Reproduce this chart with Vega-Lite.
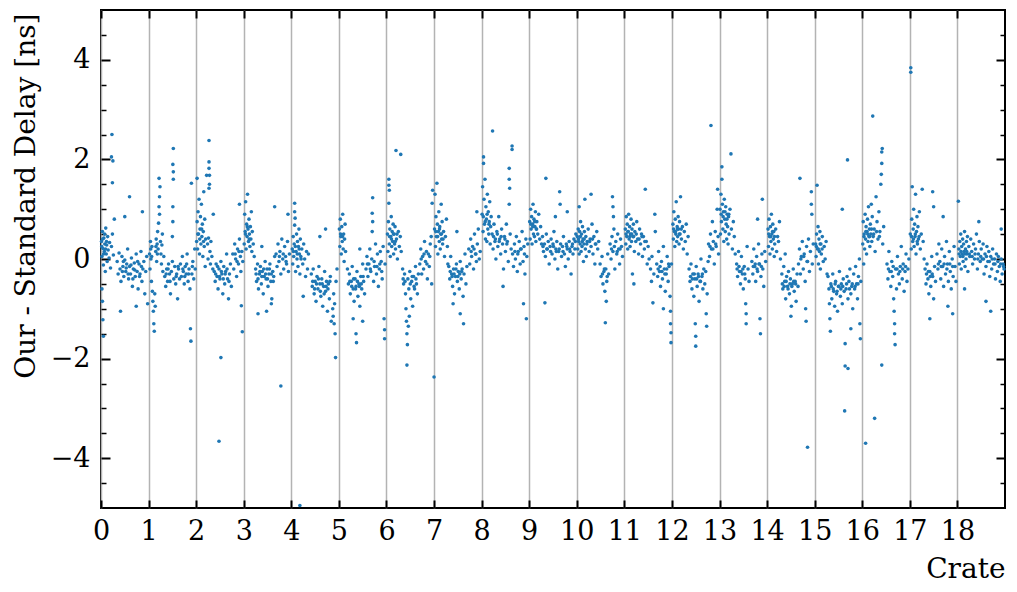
{
  "$schema": "https://vega.github.io/schema/vega-lite/v6.json",
  "width": 904,
  "height": 498,
  "autosize": "none",
  "padding": {"left": 101, "top": 10, "right": 12, "bottom": 84},
  "background": "white",
  "config": {
    "view": {"stroke": "black", "strokeWidth": 2},
    "axis": {"labelFont": "DejaVu Serif", "titleFont": "DejaVu Serif", "labelColor": "black", "titleColor": "black", "titleFontWeight": "normal", "tickColor": "black", "domain": false}
  },
  "resolve": {"axis": {"x": "independent", "y": "independent"}},
  "data": {"values": [
{"crate":0.01,"delay":0.35},{"crate":0.02,"delay":0.05},{"crate":0.03,"delay":0.55},{"crate":0.04,"delay":0.21},{"crate":0.05,"delay":-0.12},{"crate":0.06,"delay":0.42},{"crate":0.07,"delay":0.15},{"crate":0.08,"delay":0.3},{"crate":0.09,"delay":-0.25},{"crate":0.1,"delay":0.62},{"crate":0.11,"delay":0.1},{"crate":0.12,"delay":0.28},{"crate":0.13,"delay":-0.05},{"crate":0.14,"delay":0.45},{"crate":0.15,"delay":0.18},{"crate":0.17,"delay":0.02},{"crate":0.18,"delay":0.33},{"crate":0.2,"delay":-0.18},{"crate":0.22,"delay":0.25},{"crate":0.24,"delay":0.5},{"crate":0.26,"delay":0.08},{"crate":0.28,"delay":0.8},
{"crate":0.23,"delay":2.5},{"crate":0.22,"delay":2.05},{"crate":0.25,"delay":1.97},{"crate":0.24,"delay":1.53},{"crate":0.04,"delay":-1.22},{"crate":0.05,"delay":-1.55},{"crate":0.02,"delay":-0.6},{"crate":0.03,"delay":-0.85},
{"crate":0.34,"delay":-0.05},{"crate":0.36,"delay":-0.3},{"crate":0.38,"delay":0.12},{"crate":0.4,"delay":-0.2},{"crate":0.42,"delay":-0.45},{"crate":0.44,"delay":0.05},{"crate":0.46,"delay":-0.15},{"crate":0.48,"delay":-0.35},{"crate":0.5,"delay":-0.02},{"crate":0.52,"delay":-0.25},{"crate":0.54,"delay":-0.1},{"crate":0.56,"delay":0.2},{"crate":0.58,"delay":-0.4},{"crate":0.6,"delay":-0.15},{"crate":0.62,"delay":-0.3},{"crate":0.64,"delay":0.02},{"crate":0.66,"delay":-0.55},{"crate":0.68,"delay":-0.2},{"crate":0.7,"delay":-0.08},{"crate":0.72,"delay":-0.35},{"crate":0.74,"delay":0.1},{"crate":0.76,"delay":-0.25},{"crate":0.78,"delay":-0.6},{"crate":0.8,"delay":-0.1},{"crate":0.82,"delay":-0.3},{"crate":0.84,"delay":0.15},{"crate":0.86,"delay":-0.45},{"crate":0.88,"delay":-0.2},{"crate":0.9,"delay":-0.05},{"crate":0.92,"delay":-0.7},{"crate":0.94,"delay":-0.25},{"crate":0.96,"delay":0.05},
{"crate":0.41,"delay":-1.05},{"crate":0.6,"delay":1.25},{"crate":0.74,"delay":-0.95},{"crate":0.5,"delay":0.85},{"crate":0.87,"delay":0.95},{"crate":0.98,"delay":-0.9},
{"crate":0.015,"delay":0.25},{"crate":0.035,"delay":0.4},{"crate":0.055,"delay":0.1},{"crate":0.075,"delay":0.5},{"crate":0.095,"delay":0.2},{"crate":0.115,"delay":0.35},{"crate":0.45,"delay":-0.25},{"crate":0.47,"delay":-0.05},{"crate":0.53,"delay":-0.18},{"crate":0.57,"delay":-0.3},{"crate":0.63,"delay":-0.12},{"crate":0.67,"delay":-0.4},{"crate":0.71,"delay":-0.22},{"crate":0.77,"delay":-0.05},{"crate":0.81,"delay":-0.35},{"crate":0.85,"delay":-0.15},
{"crate":1.02,"delay":0.1},{"crate":1.03,"delay":-0.2},{"crate":1.04,"delay":0.35},{"crate":1.05,"delay":0.0},{"crate":1.06,"delay":-0.45},{"crate":1.07,"delay":0.25},{"crate":1.08,"delay":-0.65},{"crate":1.09,"delay":-0.85},{"crate":1.1,"delay":-1.05},{"crate":1.11,"delay":-1.3},{"crate":1.12,"delay":-1.45},{"crate":1.13,"delay":-0.7},{"crate":1.14,"delay":-0.95},{"crate":1.15,"delay":0.15},{"crate":1.16,"delay":0.4},{"crate":1.17,"delay":-0.05},{"crate":1.18,"delay":0.3},{"crate":1.19,"delay":0.55},{"crate":1.2,"delay":0.2},{"crate":1.21,"delay":0.72},{"crate":1.22,"delay":1.05},{"crate":1.23,"delay":1.25},{"crate":1.24,"delay":1.45},{"crate":1.22,"delay":1.62},{"crate":1.23,"delay":0.9},{"crate":1.25,"delay":0.35},{"crate":1.26,"delay":0.1},{"crate":1.27,"delay":-0.1},{"crate":1.28,"delay":0.28},{"crate":1.29,"delay":0.5},{"crate":1.3,"delay":-0.25},{"crate":1.32,"delay":0.05},
{"crate":1.34,"delay":-0.35},{"crate":1.36,"delay":-0.55},{"crate":1.38,"delay":-0.2},{"crate":1.4,"delay":-0.45},{"crate":1.42,"delay":-0.1},{"crate":1.44,"delay":-0.3},{"crate":1.46,"delay":-0.7},{"crate":1.48,"delay":-0.25},{"crate":1.5,"delay":-0.05},{"crate":1.5,"delay":0.45},{"crate":1.51,"delay":0.75},{"crate":1.51,"delay":1.05},{"crate":1.52,"delay":1.6},{"crate":1.52,"delay":1.75},{"crate":1.51,"delay":1.9},{"crate":1.52,"delay":2.22},{"crate":1.53,"delay":-0.4},{"crate":1.55,"delay":-0.15},{"crate":1.57,"delay":-0.5},{"crate":1.59,"delay":-0.3},{"crate":1.61,"delay":-0.8},{"crate":1.63,"delay":-0.2},{"crate":1.65,"delay":-0.4},
{"crate":1.67,"delay":-0.1},{"crate":1.69,"delay":-0.35},{"crate":1.71,"delay":0.05},{"crate":1.73,"delay":-0.25},{"crate":1.75,"delay":-0.5},{"crate":1.77,"delay":-0.15},{"crate":1.79,"delay":-0.3},{"crate":1.81,"delay":0.1},{"crate":1.83,"delay":-0.45},{"crate":1.85,"delay":-0.2},{"crate":1.87,"delay":-0.6},{"crate":1.88,"delay":-1.4},{"crate":1.89,"delay":-1.65},{"crate":1.9,"delay":1.52},{"crate":1.91,"delay":-0.3},{"crate":1.93,"delay":-0.05},{"crate":1.95,"delay":-0.4},{"crate":1.97,"delay":0.2},{"crate":1.98,"delay":-0.2},
{"crate":1.045,"delay":0.2},{"crate":1.065,"delay":0.05},{"crate":1.155,"delay":0.25},{"crate":1.185,"delay":0.1},{"crate":1.37,"delay":-0.3},{"crate":1.41,"delay":-0.2},{"crate":1.45,"delay":-0.45},{"crate":1.58,"delay":-0.35},{"crate":1.62,"delay":-0.15},{"crate":1.72,"delay":-0.2},{"crate":1.76,"delay":-0.35},{"crate":1.8,"delay":-0.1},{"crate":1.84,"delay":-0.3},{"crate":1.92,"delay":-0.15},
{"crate":2.01,"delay":0.35},{"crate":2.02,"delay":0.75},{"crate":2.03,"delay":0.2},{"crate":2.04,"delay":0.95},{"crate":2.05,"delay":0.5},{"crate":2.06,"delay":1.2},{"crate":2.07,"delay":0.1},{"crate":2.08,"delay":0.6},{"crate":2.09,"delay":0.85},{"crate":2.1,"delay":0.3},{"crate":2.11,"delay":1.1},{"crate":2.12,"delay":0.45},{"crate":2.13,"delay":0.7},{"crate":2.14,"delay":0.05},{"crate":2.15,"delay":0.55},{"crate":2.16,"delay":1.35},{"crate":2.17,"delay":0.25},{"crate":2.18,"delay":0.8},{"crate":2.19,"delay":-0.15},{"crate":2.2,"delay":0.4},{"crate":2.22,"delay":1.68},{"crate":2.02,"delay":1.62},
{"crate":2.24,"delay":0.3},{"crate":2.25,"delay":0.0},{"crate":2.26,"delay":0.42},{"crate":2.27,"delay":2.38},{"crate":2.27,"delay":1.95},{"crate":2.27,"delay":1.82},{"crate":2.28,"delay":1.68},{"crate":2.28,"delay":1.5},{"crate":2.27,"delay":1.42},{"crate":2.29,"delay":0.15},{"crate":2.3,"delay":-0.1},{"crate":2.31,"delay":0.35},{"crate":2.33,"delay":0.05},{"crate":2.35,"delay":-0.2},{"crate":2.36,"delay":0.9},
{"crate":2.38,"delay":-0.25},{"crate":2.4,"delay":-0.45},{"crate":2.42,"delay":-0.1},{"crate":2.44,"delay":-0.35},{"crate":2.46,"delay":-0.6},{"crate":2.48,"delay":-0.2},{"crate":2.5,"delay":-0.4},{"crate":2.52,"delay":-0.05},{"crate":2.54,"delay":-0.3},{"crate":2.56,"delay":-0.7},{"crate":2.58,"delay":-0.15},{"crate":2.6,"delay":-0.5},{"crate":2.62,"delay":-0.25},{"crate":2.64,"delay":0.1},{"crate":2.66,"delay":-0.4},{"crate":2.68,"delay":-0.8},{"crate":2.7,"delay":-0.3},{"crate":2.72,"delay":-0.1},{"crate":2.74,"delay":-0.55},
{"crate":2.77,"delay":0.1},{"crate":2.79,"delay":-0.2},{"crate":2.81,"delay":0.3},{"crate":2.83,"delay":0.0},{"crate":2.85,"delay":-0.35},{"crate":2.87,"delay":0.2},{"crate":2.89,"delay":-0.1},{"crate":2.91,"delay":0.4},{"crate":2.93,"delay":0.05},{"crate":2.94,"delay":-0.25},{"crate":2.96,"delay":0.15},{"crate":2.98,"delay":-0.05},
{"crate":2.48,"delay":-3.66},{"crate":2.52,"delay":-1.98},{"crate":2.95,"delay":-0.94},{"crate":2.97,"delay":-1.46},{"crate":2.91,"delay":1.1},
{"crate":2.035,"delay":0.5},{"crate":2.075,"delay":0.4},{"crate":2.115,"delay":0.6},{"crate":2.155,"delay":0.35},{"crate":2.41,"delay":-0.3},{"crate":2.45,"delay":-0.15},{"crate":2.49,"delay":-0.35},{"crate":2.53,"delay":-0.25},{"crate":2.57,"delay":-0.4},{"crate":2.61,"delay":-0.3},{"crate":2.65,"delay":-0.2},{"crate":2.69,"delay":-0.45},{"crate":2.82,"delay":0.1},{"crate":2.86,"delay":-0.05},{"crate":2.9,"delay":0.15},
{"crate":3.01,"delay":0.3},{"crate":3.02,"delay":0.9},{"crate":3.03,"delay":0.55},{"crate":3.04,"delay":1.15},{"crate":3.05,"delay":0.2},{"crate":3.06,"delay":0.7},{"crate":3.07,"delay":0.45},{"crate":3.08,"delay":1.3},{"crate":3.09,"delay":0.6},{"crate":3.1,"delay":0.35},{"crate":3.11,"delay":0.8},{"crate":3.12,"delay":0.5},{"crate":3.13,"delay":0.25},{"crate":3.14,"delay":0.65},{"crate":3.15,"delay":0.4},{"crate":3.16,"delay":0.95},{"crate":3.17,"delay":0.15},{"crate":3.18,"delay":0.55},{"crate":3.2,"delay":0.3},{"crate":3.22,"delay":0.05},
{"crate":3.25,"delay":-0.2},{"crate":3.27,"delay":-0.45},{"crate":3.29,"delay":-0.1},{"crate":3.31,"delay":-0.6},{"crate":3.33,"delay":-0.3},{"crate":3.35,"delay":-0.15},{"crate":3.37,"delay":-0.5},{"crate":3.39,"delay":-0.25},{"crate":3.41,"delay":-0.7},{"crate":3.43,"delay":-0.35},{"crate":3.45,"delay":-0.05},{"crate":3.47,"delay":-0.4},{"crate":3.49,"delay":-0.2},{"crate":3.51,"delay":-0.55},{"crate":3.53,"delay":-0.3},{"crate":3.55,"delay":-0.1},{"crate":3.57,"delay":-0.45},{"crate":3.59,"delay":-0.8},{"crate":3.61,"delay":-0.25},{"crate":3.63,"delay":-0.35},{"crate":3.65,"delay":0.05},{"crate":3.3,"delay":-1.1},{"crate":3.48,"delay":-1.05},{"crate":3.58,"delay":-0.9},{"crate":3.38,"delay":0.25},
{"crate":3.68,"delay":0.1},{"crate":3.7,"delay":-0.15},{"crate":3.72,"delay":0.3},{"crate":3.74,"delay":-0.05},{"crate":3.76,"delay":0.15},{"crate":3.78,"delay":-0.3},{"crate":3.8,"delay":0.4},{"crate":3.82,"delay":0.0},{"crate":3.84,"delay":-0.2},{"crate":3.86,"delay":0.25},{"crate":3.88,"delay":0.05},{"crate":3.9,"delay":-0.1},{"crate":3.92,"delay":0.35},{"crate":3.94,"delay":-0.25},{"crate":3.96,"delay":0.1},{"crate":3.93,"delay":0.9},{"crate":3.65,"delay":1.05},{"crate":3.78,"delay":-2.55},
{"crate":3.035,"delay":0.5},{"crate":3.075,"delay":0.65},{"crate":3.115,"delay":0.4},{"crate":3.26,"delay":-0.3},{"crate":3.3,"delay":-0.4},{"crate":3.34,"delay":-0.25},{"crate":3.38,"delay":-0.35},{"crate":3.42,"delay":-0.2},{"crate":3.46,"delay":-0.3},{"crate":3.5,"delay":-0.4},{"crate":3.54,"delay":-0.2},{"crate":3.58,"delay":-0.3},{"crate":3.62,"delay":-0.45},{"crate":3.75,"delay":0.05},{"crate":3.83,"delay":0.1},{"crate":3.89,"delay":-0.05},
{"crate":4.02,"delay":0.2},{"crate":4.03,"delay":-0.1},{"crate":4.04,"delay":0.45},{"crate":4.05,"delay":0.05},{"crate":4.06,"delay":0.3},{"crate":4.07,"delay":1.12},{"crate":4.07,"delay":0.95},{"crate":4.08,"delay":0.82},{"crate":4.07,"delay":0.68},{"crate":4.09,"delay":-0.25},{"crate":4.1,"delay":0.15},{"crate":4.11,"delay":0.5},{"crate":4.12,"delay":0.0},{"crate":4.13,"delay":0.35},{"crate":4.14,"delay":-0.15},{"crate":4.15,"delay":0.25},{"crate":4.16,"delay":0.6},{"crate":4.17,"delay":0.1},{"crate":4.18,"delay":-0.3},{"crate":4.19,"delay":0.4},{"crate":4.2,"delay":0.05},{"crate":4.22,"delay":0.2},{"crate":4.24,"delay":-0.1},{"crate":4.26,"delay":0.3},{"crate":4.28,"delay":0.0},{"crate":4.3,"delay":-0.35},{"crate":4.32,"delay":0.15},{"crate":4.34,"delay":-0.2},{"crate":4.36,"delay":0.1},{"crate":4.18,"delay":-4.95},{"crate":4.25,"delay":-0.75},
{"crate":4.42,"delay":-0.3},{"crate":4.44,"delay":-0.55},{"crate":4.46,"delay":-0.2},{"crate":4.48,"delay":-0.7},{"crate":4.5,"delay":-0.45},{"crate":4.52,"delay":-0.85},{"crate":4.54,"delay":-0.35},{"crate":4.56,"delay":-0.6},{"crate":4.58,"delay":-0.15},{"crate":4.6,"delay":-0.5},{"crate":4.62,"delay":-0.75},{"crate":4.64,"delay":-0.4},{"crate":4.66,"delay":-0.95},{"crate":4.68,"delay":-0.55},{"crate":4.7,"delay":-0.25},{"crate":4.72,"delay":-0.65},{"crate":4.74,"delay":-0.45},{"crate":4.76,"delay":-1.05},{"crate":4.78,"delay":-0.5},{"crate":4.8,"delay":-0.8},{"crate":4.82,"delay":-0.35},{"crate":4.84,"delay":-1.25},{"crate":4.6,"delay":0.45},{"crate":4.72,"delay":0.6},
{"crate":4.87,"delay":-1.0},{"crate":4.88,"delay":-1.15},{"crate":4.89,"delay":-0.7},{"crate":4.9,"delay":-1.3},{"crate":4.91,"delay":-0.9},{"crate":4.92,"delay":-1.5},{"crate":4.94,"delay":-0.45},{"crate":4.96,"delay":-0.2},{"crate":4.93,"delay":-1.98},
{"crate":4.045,"delay":0.15},{"crate":4.085,"delay":0.25},{"crate":4.125,"delay":0.1},{"crate":4.165,"delay":0.2},{"crate":4.205,"delay":0.0},{"crate":4.45,"delay":-0.45},{"crate":4.49,"delay":-0.6},{"crate":4.53,"delay":-0.5},{"crate":4.57,"delay":-0.4},{"crate":4.61,"delay":-0.65},{"crate":4.65,"delay":-0.5},{"crate":4.69,"delay":-0.7},{"crate":4.73,"delay":-0.55},{"crate":4.77,"delay":-0.6},{"crate":4.81,"delay":-0.45},
{"crate":5.01,"delay":0.6},{"crate":5.02,"delay":0.25},{"crate":5.03,"delay":0.8},{"crate":5.04,"delay":0.45},{"crate":5.05,"delay":0.1},{"crate":5.06,"delay":0.65},{"crate":5.07,"delay":0.35},{"crate":5.08,"delay":0.9},{"crate":5.09,"delay":0.2},{"crate":5.1,"delay":0.5},{"crate":5.11,"delay":-0.05},{"crate":5.12,"delay":0.4},{"crate":5.13,"delay":0.7},{"crate":5.14,"delay":0.15},
{"crate":5.18,"delay":-0.2},{"crate":5.2,"delay":-0.5},{"crate":5.22,"delay":-0.3},{"crate":5.24,"delay":-0.7},{"crate":5.26,"delay":-0.45},{"crate":5.28,"delay":-0.15},{"crate":5.3,"delay":-0.6},{"crate":5.32,"delay":-0.85},{"crate":5.34,"delay":-0.4},{"crate":5.36,"delay":-0.55},{"crate":5.38,"delay":-0.25},{"crate":5.4,"delay":-0.75},{"crate":5.42,"delay":-0.5},{"crate":5.44,"delay":-0.95},{"crate":5.46,"delay":-0.35},{"crate":5.48,"delay":-0.6},{"crate":5.5,"delay":-0.1},{"crate":5.52,"delay":-0.45},{"crate":5.54,"delay":-0.7},{"crate":5.3,"delay":-1.2},{"crate":5.36,"delay":-1.5},{"crate":5.37,"delay":-1.68},{"crate":5.5,"delay":-1.25},{"crate":5.44,"delay":0.2},
{"crate":5.57,"delay":-0.2},{"crate":5.59,"delay":0.05},{"crate":5.61,"delay":-0.35},{"crate":5.63,"delay":-0.1},{"crate":5.65,"delay":0.2},{"crate":5.67,"delay":-0.25},{"crate":5.69,"delay":0.0},{"crate":5.7,"delay":0.55},{"crate":5.71,"delay":0.75},{"crate":5.7,"delay":0.92},{"crate":5.71,"delay":1.23},{"crate":5.73,"delay":-0.45},{"crate":5.75,"delay":-0.15},{"crate":5.77,"delay":0.3},{"crate":5.79,"delay":-0.3},{"crate":5.81,"delay":0.1},{"crate":5.83,"delay":-0.55},{"crate":5.85,"delay":-0.2},{"crate":5.87,"delay":0.15},{"crate":5.89,"delay":-0.05},{"crate":5.91,"delay":-0.4},{"crate":5.93,"delay":0.25},{"crate":5.95,"delay":-1.2},{"crate":5.96,"delay":-1.42},{"crate":5.96,"delay":-1.6},{"crate":5.97,"delay":-0.1},
{"crate":5.035,"delay":0.5},{"crate":5.075,"delay":0.45},{"crate":5.23,"delay":-0.45},{"crate":5.27,"delay":-0.55},{"crate":5.31,"delay":-0.4},{"crate":5.35,"delay":-0.6},{"crate":5.39,"delay":-0.45},{"crate":5.43,"delay":-0.55},{"crate":5.47,"delay":-0.5},{"crate":5.51,"delay":-0.35},{"crate":5.6,"delay":-0.1},{"crate":5.66,"delay":-0.2},{"crate":5.74,"delay":-0.05},{"crate":5.8,"delay":-0.15},{"crate":5.86,"delay":-0.1},{"crate":5.9,"delay":-0.25},
{"crate":6.02,"delay":0.5},{"crate":6.03,"delay":0.15},{"crate":6.04,"delay":0.75},{"crate":6.05,"delay":1.6},{"crate":6.05,"delay":1.48},{"crate":6.06,"delay":1.38},{"crate":6.05,"delay":1.12},{"crate":6.06,"delay":0.3},{"crate":6.07,"delay":0.6},{"crate":6.08,"delay":0.05},{"crate":6.09,"delay":0.45},{"crate":6.1,"delay":0.85},{"crate":6.11,"delay":0.25},{"crate":6.12,"delay":0.55},{"crate":6.13,"delay":0.35},{"crate":6.14,"delay":0.7},{"crate":6.15,"delay":0.1},{"crate":6.16,"delay":0.5},{"crate":6.17,"delay":0.3},{"crate":6.18,"delay":0.65},{"crate":6.19,"delay":0.2},{"crate":6.2,"delay":2.18},{"crate":6.21,"delay":0.4},{"crate":6.23,"delay":0.0},{"crate":6.25,"delay":0.55},{"crate":6.27,"delay":0.25},{"crate":6.29,"delay":0.45},{"crate":6.3,"delay":2.1},{"crate":6.31,"delay":0.15},
{"crate":6.34,"delay":-0.2},{"crate":6.36,"delay":-0.5},{"crate":6.38,"delay":-0.3},{"crate":6.4,"delay":-0.7},{"crate":6.41,"delay":-1.0},{"crate":6.42,"delay":-1.25},{"crate":6.43,"delay":-1.5},{"crate":6.44,"delay":-1.72},{"crate":6.43,"delay":-2.13},{"crate":6.45,"delay":-0.4},{"crate":6.46,"delay":-1.35},{"crate":6.47,"delay":-0.6},{"crate":6.48,"delay":-1.15},{"crate":6.49,"delay":-0.25},{"crate":6.51,"delay":-0.8},{"crate":6.53,"delay":-0.45},{"crate":6.55,"delay":-0.95},{"crate":6.57,"delay":-0.35},{"crate":6.59,"delay":-0.6},{"crate":6.61,"delay":-0.15},{"crate":6.63,"delay":-0.5},{"crate":6.65,"delay":-0.7},{"crate":6.67,"delay":-0.3},
{"crate":6.7,"delay":-0.1},{"crate":6.72,"delay":0.2},{"crate":6.74,"delay":-0.3},{"crate":6.76,"delay":0.05},{"crate":6.78,"delay":-0.2},{"crate":6.8,"delay":0.35},{"crate":6.82,"delay":-0.05},{"crate":6.84,"delay":0.15},{"crate":6.86,"delay":-0.4},{"crate":6.88,"delay":0.1},{"crate":6.9,"delay":-0.15},{"crate":6.92,"delay":0.3},{"crate":6.94,"delay":0.45},{"crate":6.96,"delay":1.12},{"crate":6.97,"delay":1.38},{"crate":6.95,"delay":-0.5},
{"crate":6.065,"delay":0.45},{"crate":6.105,"delay":0.4},{"crate":6.145,"delay":0.5},{"crate":6.185,"delay":0.35},{"crate":6.22,"delay":0.5},{"crate":6.35,"delay":-0.4},{"crate":6.39,"delay":-0.45},{"crate":6.5,"delay":-0.5},{"crate":6.54,"delay":-0.35},{"crate":6.58,"delay":-0.55},{"crate":6.62,"delay":-0.4},{"crate":6.73,"delay":0.0},{"crate":6.79,"delay":0.1},{"crate":6.85,"delay":-0.1},{"crate":6.91,"delay":0.05},
{"crate":7.01,"delay":0.6},{"crate":7.02,"delay":1.3},{"crate":7.03,"delay":0.25},{"crate":7.04,"delay":0.85},{"crate":7.05,"delay":0.45},{"crate":7.06,"delay":1.52},{"crate":7.07,"delay":0.7},{"crate":7.08,"delay":0.1},{"crate":7.09,"delay":0.55},{"crate":7.1,"delay":0.95},{"crate":7.11,"delay":0.35},{"crate":7.12,"delay":0.65},{"crate":7.13,"delay":0.2},{"crate":7.14,"delay":0.5},{"crate":7.15,"delay":1.1},{"crate":7.16,"delay":0.4},{"crate":7.17,"delay":0.75},{"crate":7.18,"delay":0.3},{"crate":7.2,"delay":0.55},{"crate":7.22,"delay":0.05},{"crate":7.24,"delay":0.45},{"crate":7.26,"delay":0.8},{"crate":7.28,"delay":0.25},{"crate":7.29,"delay":-0.1},{"crate":7.0,"delay":-2.37},
{"crate":7.31,"delay":-0.15},{"crate":7.33,"delay":-0.4},{"crate":7.35,"delay":0.05},{"crate":7.37,"delay":-0.3},{"crate":7.39,"delay":-0.55},{"crate":7.41,"delay":-0.2},{"crate":7.43,"delay":-0.7},{"crate":7.45,"delay":-0.35},{"crate":7.47,"delay":-0.1},{"crate":7.49,"delay":-0.45},{"crate":7.51,"delay":-0.25},{"crate":7.53,"delay":-0.6},{"crate":7.55,"delay":-0.05},{"crate":7.57,"delay":-0.4},{"crate":7.59,"delay":-0.2},{"crate":7.61,"delay":-0.75},{"crate":7.63,"delay":-0.3},{"crate":7.65,"delay":0.1},{"crate":7.67,"delay":-0.5},{"crate":7.69,"delay":-0.15},{"crate":7.4,"delay":-0.9},{"crate":7.55,"delay":-1.1},{"crate":7.62,"delay":-1.3},{"crate":7.48,"delay":0.55},
{"crate":7.73,"delay":0.2},{"crate":7.75,"delay":-0.1},{"crate":7.77,"delay":0.4},{"crate":7.79,"delay":0.05},{"crate":7.81,"delay":0.25},{"crate":7.83,"delay":-0.2},{"crate":7.85,"delay":0.5},{"crate":7.87,"delay":0.1},{"crate":7.89,"delay":-0.05},{"crate":7.91,"delay":0.3},{"crate":7.93,"delay":0.6},{"crate":7.95,"delay":0.0},{"crate":7.97,"delay":0.15},{"crate":7.9,"delay":0.95},
{"crate":7.035,"delay":0.55},{"crate":7.075,"delay":0.45},{"crate":7.115,"delay":0.6},{"crate":7.155,"delay":0.5},{"crate":7.19,"delay":0.4},{"crate":7.34,"delay":-0.25},{"crate":7.38,"delay":-0.35},{"crate":7.42,"delay":-0.3},{"crate":7.46,"delay":-0.2},{"crate":7.5,"delay":-0.35},{"crate":7.54,"delay":-0.3},{"crate":7.58,"delay":-0.25},{"crate":7.78,"delay":0.15},{"crate":7.84,"delay":0.2},{"crate":7.88,"delay":0.1},
{"crate":8.01,"delay":0.9},{"crate":8.02,"delay":1.45},{"crate":8.03,"delay":0.55},{"crate":8.04,"delay":2.05},{"crate":8.04,"delay":1.92},{"crate":8.05,"delay":1.2},{"crate":8.06,"delay":0.7},{"crate":8.07,"delay":1.6},{"crate":8.08,"delay":0.4},{"crate":8.09,"delay":1.05},{"crate":8.1,"delay":0.8},{"crate":8.11,"delay":0.35},{"crate":8.12,"delay":1.3},{"crate":8.13,"delay":0.6},{"crate":8.14,"delay":0.95},{"crate":8.15,"delay":0.5},{"crate":8.16,"delay":0.75},{"crate":8.17,"delay":1.15},{"crate":8.18,"delay":0.3},{"crate":8.19,"delay":0.65},{"crate":8.2,"delay":0.85},{"crate":8.23,"delay":2.57},
{"crate":8.22,"delay":0.5},{"crate":8.24,"delay":0.2},{"crate":8.26,"delay":0.7},{"crate":8.28,"delay":0.35},{"crate":8.3,"delay":0.0},{"crate":8.32,"delay":0.55},{"crate":8.34,"delay":0.25},{"crate":8.36,"delay":0.85},{"crate":8.38,"delay":0.4},{"crate":8.4,"delay":0.1},{"crate":8.42,"delay":0.6},{"crate":8.44,"delay":0.3},{"crate":8.46,"delay":-0.2},{"crate":8.48,"delay":0.45},{"crate":8.5,"delay":0.15},{"crate":8.52,"delay":0.7},{"crate":8.54,"delay":0.35},{"crate":8.56,"delay":-0.05},{"crate":8.58,"delay":1.82},{"crate":8.58,"delay":1.6},{"crate":8.59,"delay":1.42},{"crate":8.58,"delay":1.1},{"crate":8.6,"delay":0.5},{"crate":8.62,"delay":0.2},{"crate":8.64,"delay":2.27},{"crate":8.64,"delay":2.2},{"crate":8.45,"delay":-0.55},
{"crate":8.65,"delay":0.1},{"crate":8.67,"delay":-0.15},{"crate":8.69,"delay":0.3},{"crate":8.71,"delay":0.0},{"crate":8.73,"delay":0.45},{"crate":8.75,"delay":-0.25},{"crate":8.77,"delay":0.15},{"crate":8.79,"delay":0.35},{"crate":8.81,"delay":-0.1},{"crate":8.83,"delay":0.2},{"crate":8.85,"delay":0.55},{"crate":8.87,"delay":-0.05},{"crate":8.89,"delay":0.25},{"crate":8.91,"delay":-0.3},{"crate":8.93,"delay":0.4},{"crate":8.95,"delay":0.05},{"crate":8.97,"delay":0.3},{"crate":8.88,"delay":-0.9},{"crate":8.94,"delay":-1.2},
{"crate":8.035,"delay":0.85},{"crate":8.075,"delay":0.75},{"crate":8.115,"delay":0.9},{"crate":8.155,"delay":0.7},{"crate":8.25,"delay":0.45},{"crate":8.29,"delay":0.4},{"crate":8.33,"delay":0.5},{"crate":8.37,"delay":0.35},{"crate":8.41,"delay":0.45},{"crate":8.49,"delay":0.4},{"crate":8.53,"delay":0.3},{"crate":8.7,"delay":0.15},{"crate":8.76,"delay":0.1},{"crate":8.82,"delay":0.2},{"crate":8.9,"delay":0.1},
{"crate":9.01,"delay":0.75},{"crate":9.02,"delay":0.4},{"crate":9.03,"delay":1.0},{"crate":9.04,"delay":0.6},{"crate":9.05,"delay":0.85},{"crate":9.06,"delay":0.3},{"crate":9.07,"delay":0.7},{"crate":9.08,"delay":1.1},{"crate":9.09,"delay":0.5},{"crate":9.1,"delay":0.8},{"crate":9.11,"delay":0.45},{"crate":9.12,"delay":0.65},{"crate":9.13,"delay":0.95},{"crate":9.14,"delay":0.35},{"crate":9.15,"delay":0.6},{"crate":9.16,"delay":0.75},{"crate":9.18,"delay":0.5},{"crate":9.2,"delay":0.9},{"crate":9.22,"delay":0.4},{"crate":9.24,"delay":0.65},{"crate":9.26,"delay":0.3},
{"crate":9.28,"delay":0.45},{"crate":9.3,"delay":0.15},{"crate":9.32,"delay":0.3},{"crate":9.33,"delay":-0.88},{"crate":9.34,"delay":0.05},{"crate":9.35,"delay":1.62},{"crate":9.36,"delay":0.5},{"crate":9.38,"delay":0.2},{"crate":9.4,"delay":0.35},{"crate":9.42,"delay":-0.1},{"crate":9.44,"delay":0.25},{"crate":9.46,"delay":0.4},{"crate":9.48,"delay":0.1},{"crate":9.5,"delay":0.3},{"crate":9.52,"delay":0.55},{"crate":9.54,"delay":0.0},{"crate":9.56,"delay":0.2},{"crate":9.58,"delay":0.35},{"crate":9.6,"delay":-0.2},{"crate":9.62,"delay":0.15},{"crate":9.64,"delay":1.35},{"crate":9.65,"delay":1.1},{"crate":9.66,"delay":0.3},{"crate":9.68,"delay":0.05},{"crate":9.7,"delay":0.25},{"crate":9.72,"delay":0.45},{"crate":9.74,"delay":0.1},{"crate":9.76,"delay":-0.15},{"crate":9.78,"delay":0.3},{"crate":9.8,"delay":0.2},{"crate":9.82,"delay":0.0},{"crate":9.84,"delay":0.35},{"crate":9.86,"delay":0.15},{"crate":9.88,"delay":-0.3},{"crate":9.9,"delay":0.25},{"crate":9.92,"delay":0.1},{"crate":9.94,"delay":0.4},{"crate":9.96,"delay":0.2},{"crate":9.98,"delay":0.5},{"crate":9.8,"delay":0.95},{"crate":9.55,"delay":0.85},
{"crate":9.035,"delay":0.7},{"crate":9.075,"delay":0.65},{"crate":9.115,"delay":0.75},{"crate":9.155,"delay":0.6},{"crate":9.29,"delay":0.25},{"crate":9.37,"delay":0.2},{"crate":9.45,"delay":0.15},{"crate":9.51,"delay":0.25},{"crate":9.57,"delay":0.15},{"crate":9.63,"delay":0.2},{"crate":9.71,"delay":0.15},{"crate":9.79,"delay":0.25},{"crate":9.85,"delay":0.2},{"crate":9.91,"delay":0.3},{"crate":9.97,"delay":0.35},
{"crate":10.01,"delay":0.45},{"crate":10.02,"delay":0.2},{"crate":10.03,"delay":0.6},{"crate":10.04,"delay":0.35},{"crate":10.05,"delay":0.1},{"crate":10.06,"delay":0.55},{"crate":10.07,"delay":0.3},{"crate":10.08,"delay":0.75},{"crate":10.09,"delay":0.15},{"crate":10.1,"delay":0.5},{"crate":10.11,"delay":0.25},{"crate":10.12,"delay":0.65},{"crate":10.13,"delay":0.4},{"crate":10.14,"delay":-0.05},{"crate":10.15,"delay":0.3},{"crate":10.16,"delay":0.55},{"crate":10.17,"delay":1.2},{"crate":10.18,"delay":0.2},{"crate":10.19,"delay":0.45},{"crate":10.2,"delay":0.05},{"crate":10.22,"delay":0.35},{"crate":10.24,"delay":0.6},{"crate":10.26,"delay":0.15},{"crate":10.28,"delay":0.4},{"crate":10.3,"delay":0.25},{"crate":10.32,"delay":0.7},{"crate":10.34,"delay":0.1},{"crate":10.36,"delay":0.45},{"crate":10.38,"delay":-0.1},{"crate":10.4,"delay":0.3},{"crate":10.42,"delay":0.55},{"crate":10.44,"delay":0.2},{"crate":10.46,"delay":0.35},{"crate":10.05,"delay":1.05},{"crate":10.3,"delay":1.3},
{"crate":10.49,"delay":-0.1},{"crate":10.51,"delay":-0.35},{"crate":10.53,"delay":0.05},{"crate":10.55,"delay":-0.5},{"crate":10.57,"delay":-0.25},{"crate":10.59,"delay":-0.65},{"crate":10.61,"delay":-0.2},{"crate":10.63,"delay":-0.45},{"crate":10.65,"delay":0.1},{"crate":10.67,"delay":-0.3},{"crate":10.6,"delay":-1.28},{"crate":10.62,"delay":-0.85},
{"crate":10.7,"delay":0.3},{"crate":10.72,"delay":0.0},{"crate":10.74,"delay":0.45},{"crate":10.76,"delay":0.15},{"crate":10.78,"delay":0.6},{"crate":10.8,"delay":-0.2},{"crate":10.82,"delay":0.35},{"crate":10.84,"delay":0.1},{"crate":10.86,"delay":0.5},{"crate":10.88,"delay":0.2},{"crate":10.9,"delay":-0.1},{"crate":10.92,"delay":0.4},{"crate":10.94,"delay":0.25},{"crate":10.96,"delay":0.05},{"crate":10.75,"delay":1.25},{"crate":10.76,"delay":1.05},{"crate":10.77,"delay":0.85},
{"crate":10.035,"delay":0.4},{"crate":10.075,"delay":0.45},{"crate":10.115,"delay":0.35},{"crate":10.155,"delay":0.4},{"crate":10.21,"delay":0.3},{"crate":10.27,"delay":0.35},{"crate":10.33,"delay":0.4},{"crate":10.39,"delay":0.3},{"crate":10.54,"delay":-0.3},{"crate":10.58,"delay":-0.2},{"crate":10.64,"delay":-0.35},{"crate":10.73,"delay":0.2},{"crate":10.79,"delay":0.25},{"crate":10.85,"delay":0.15},{"crate":10.91,"delay":0.2},
{"crate":11.02,"delay":0.6},{"crate":11.03,"delay":0.3},{"crate":11.04,"delay":0.85},{"crate":11.05,"delay":0.45},{"crate":11.06,"delay":0.7},{"crate":11.07,"delay":0.2},{"crate":11.08,"delay":0.55},{"crate":11.09,"delay":0.9},{"crate":11.1,"delay":0.4},{"crate":11.11,"delay":0.65},{"crate":11.12,"delay":0.25},{"crate":11.13,"delay":0.5},{"crate":11.14,"delay":0.8},{"crate":11.15,"delay":0.35},{"crate":11.16,"delay":0.6},{"crate":11.17,"delay":-0.3},{"crate":11.18,"delay":0.45},{"crate":11.19,"delay":0.7},{"crate":11.2,"delay":-0.5},{"crate":11.21,"delay":0.15},{"crate":11.22,"delay":0.55},{"crate":11.24,"delay":0.35},{"crate":11.26,"delay":0.75},{"crate":11.28,"delay":0.4},{"crate":11.3,"delay":0.1},{"crate":11.32,"delay":0.6},{"crate":11.34,"delay":0.3},{"crate":11.36,"delay":0.5},{"crate":11.38,"delay":0.05},{"crate":11.4,"delay":0.45},{"crate":11.42,"delay":0.2},{"crate":11.44,"delay":1.4},{"crate":11.46,"delay":0.35},{"crate":11.48,"delay":-0.1},{"crate":11.5,"delay":0.25},{"crate":11.52,"delay":0.0},
{"crate":11.55,"delay":-0.2},{"crate":11.57,"delay":-0.45},{"crate":11.58,"delay":0.05},{"crate":11.6,"delay":-0.88},{"crate":11.62,"delay":-0.3},{"crate":11.64,"delay":0.9},{"crate":11.65,"delay":0.55},
{"crate":11.68,"delay":-0.1},{"crate":11.7,"delay":-0.35},{"crate":11.72,"delay":0.15},{"crate":11.74,"delay":-0.25},{"crate":11.76,"delay":-0.55},{"crate":11.78,"delay":-0.05},{"crate":11.8,"delay":-0.4},{"crate":11.82,"delay":0.25},{"crate":11.84,"delay":-0.2},{"crate":11.86,"delay":-0.65},{"crate":11.88,"delay":-0.3},{"crate":11.9,"delay":0.05},{"crate":11.92,"delay":-0.45},{"crate":11.94,"delay":-0.15},{"crate":11.96,"delay":-0.75},{"crate":11.97,"delay":-1.05},{"crate":11.97,"delay":-1.3},{"crate":11.98,"delay":-1.48},{"crate":11.98,"delay":-1.68},{"crate":11.99,"delay":-0.1},{"crate":11.82,"delay":-1.0},
{"crate":11.035,"delay":0.5},{"crate":11.075,"delay":0.55},{"crate":11.115,"delay":0.45},{"crate":11.155,"delay":0.5},{"crate":11.195,"delay":0.45},{"crate":11.25,"delay":0.5},{"crate":11.31,"delay":0.4},{"crate":11.37,"delay":0.45},{"crate":11.43,"delay":0.35},{"crate":11.71,"delay":-0.2},{"crate":11.75,"delay":-0.15},{"crate":11.79,"delay":-0.25},{"crate":11.85,"delay":-0.3},{"crate":11.89,"delay":-0.2},{"crate":11.93,"delay":-0.1},
{"crate":12.02,"delay":0.7},{"crate":12.03,"delay":0.4},{"crate":12.04,"delay":0.95},{"crate":12.05,"delay":0.55},{"crate":12.06,"delay":0.25},{"crate":12.07,"delay":0.8},{"crate":12.08,"delay":0.5},{"crate":12.09,"delay":1.15},{"crate":12.1,"delay":0.35},{"crate":12.11,"delay":0.65},{"crate":12.12,"delay":0.45},{"crate":12.13,"delay":0.85},{"crate":12.14,"delay":0.6},{"crate":12.15,"delay":0.3},{"crate":12.16,"delay":0.75},{"crate":12.17,"delay":0.5},{"crate":12.18,"delay":1.25},{"crate":12.2,"delay":0.4},{"crate":12.22,"delay":0.65},{"crate":12.24,"delay":0.2},{"crate":12.26,"delay":0.55},{"crate":12.28,"delay":0.35},{"crate":12.3,"delay":0.7},{"crate":12.32,"delay":0.1},{"crate":12.34,"delay":0.45},
{"crate":12.36,"delay":-0.2},{"crate":12.38,"delay":-0.45},{"crate":12.4,"delay":-0.1},{"crate":12.42,"delay":-0.6},{"crate":12.44,"delay":-0.3},{"crate":12.46,"delay":-0.75},{"crate":12.48,"delay":-0.4},{"crate":12.49,"delay":-1.3},{"crate":12.5,"delay":-1.55},{"crate":12.5,"delay":-1.75},{"crate":12.51,"delay":-0.15},{"crate":12.53,"delay":-0.55},{"crate":12.55,"delay":-0.3},{"crate":12.57,"delay":-0.85},{"crate":12.59,"delay":-0.45},{"crate":12.61,"delay":0.0},{"crate":12.63,"delay":-0.35},{"crate":12.65,"delay":-0.6},{"crate":12.67,"delay":-0.2},{"crate":12.69,"delay":-0.5},{"crate":12.71,"delay":-0.25},{"crate":12.72,"delay":-1.1},{"crate":12.73,"delay":-1.35},{"crate":12.74,"delay":-0.7},{"crate":12.76,"delay":-0.05},
{"crate":12.77,"delay":0.3},{"crate":12.79,"delay":0.05},{"crate":12.81,"delay":0.5},{"crate":12.82,"delay":2.68},{"crate":12.83,"delay":0.2},{"crate":12.85,"delay":0.75},{"crate":12.87,"delay":0.35},{"crate":12.89,"delay":-0.1},{"crate":12.91,"delay":0.55},{"crate":12.93,"delay":0.25},{"crate":12.95,"delay":1.0},{"crate":12.96,"delay":1.4},{"crate":12.97,"delay":0.45},{"crate":12.98,"delay":0.1},
{"crate":12.035,"delay":0.6},{"crate":12.075,"delay":0.55},{"crate":12.115,"delay":0.6},{"crate":12.155,"delay":0.5},{"crate":12.195,"delay":0.6},{"crate":12.39,"delay":-0.35},{"crate":12.43,"delay":-0.4},{"crate":12.47,"delay":-0.3},{"crate":12.52,"delay":-0.4},{"crate":12.56,"delay":-0.35},{"crate":12.6,"delay":-0.45},{"crate":12.64,"delay":-0.3},{"crate":12.8,"delay":0.25},{"crate":12.86,"delay":0.2},{"crate":12.92,"delay":0.3},
{"crate":13.01,"delay":1.0},{"crate":13.02,"delay":0.5},{"crate":13.03,"delay":1.3},{"crate":13.04,"delay":0.75},{"crate":13.05,"delay":1.85},{"crate":13.05,"delay":1.6},{"crate":13.06,"delay":1.1},{"crate":13.07,"delay":0.6},{"crate":13.08,"delay":0.95},{"crate":13.09,"delay":0.35},{"crate":13.1,"delay":1.2},{"crate":13.11,"delay":0.8},{"crate":13.12,"delay":0.55},{"crate":13.13,"delay":1.05},{"crate":13.14,"delay":0.7},{"crate":13.15,"delay":0.4},{"crate":13.16,"delay":0.9},{"crate":13.17,"delay":0.65},{"crate":13.18,"delay":0.3},{"crate":13.19,"delay":0.85},{"crate":13.2,"delay":0.5},{"crate":13.22,"delay":1.0},{"crate":13.24,"delay":2.11},{"crate":13.25,"delay":0.6},{"crate":13.27,"delay":0.2},{"crate":13.29,"delay":0.75},{"crate":13.31,"delay":0.45},{"crate":13.33,"delay":0.1},
{"crate":13.36,"delay":-0.1},{"crate":13.38,"delay":-0.35},{"crate":13.4,"delay":0.15},{"crate":13.42,"delay":-0.25},{"crate":13.44,"delay":-0.5},{"crate":13.46,"delay":0.05},{"crate":13.48,"delay":-0.3},{"crate":13.5,"delay":-0.6},{"crate":13.52,"delay":-0.15},{"crate":13.54,"delay":-0.4},{"crate":13.55,"delay":-0.9},{"crate":13.56,"delay":-1.1},{"crate":13.56,"delay":-1.3},{"crate":13.58,"delay":0.25},{"crate":13.6,"delay":-0.2},{"crate":13.62,"delay":-0.45},
{"crate":13.68,"delay":-0.05},{"crate":13.7,"delay":-0.3},{"crate":13.72,"delay":0.2},{"crate":13.74,"delay":-0.15},{"crate":13.76,"delay":-0.45},{"crate":13.78,"delay":0.05},{"crate":13.8,"delay":-0.25},{"crate":13.82,"delay":0.3},{"crate":13.84,"delay":-0.1},{"crate":13.85,"delay":-1.2},{"crate":13.86,"delay":-1.5},{"crate":13.87,"delay":-0.35},{"crate":13.89,"delay":0.1},{"crate":13.91,"delay":-0.2},{"crate":13.93,"delay":-0.55},{"crate":13.95,"delay":0.15},{"crate":13.97,"delay":-0.05},{"crate":13.8,"delay":0.8},{"crate":13.9,"delay":1.2},
{"crate":13.035,"delay":0.9},{"crate":13.075,"delay":0.85},{"crate":13.115,"delay":0.95},{"crate":13.155,"delay":0.8},{"crate":13.195,"delay":0.9},{"crate":13.37,"delay":-0.2},{"crate":13.41,"delay":-0.15},{"crate":13.45,"delay":-0.25},{"crate":13.49,"delay":-0.2},{"crate":13.53,"delay":-0.3},{"crate":13.71,"delay":-0.15},{"crate":13.75,"delay":-0.1},{"crate":13.79,"delay":-0.2},{"crate":13.83,"delay":-0.1},{"crate":13.88,"delay":-0.15},
{"crate":14.02,"delay":0.6},{"crate":14.03,"delay":0.25},{"crate":14.04,"delay":0.8},{"crate":14.05,"delay":0.45},{"crate":14.06,"delay":0.1},{"crate":14.07,"delay":0.65},{"crate":14.08,"delay":0.35},{"crate":14.09,"delay":0.9},{"crate":14.1,"delay":0.5},{"crate":14.11,"delay":0.2},{"crate":14.12,"delay":0.7},{"crate":14.13,"delay":0.4},{"crate":14.14,"delay":0.55},{"crate":14.15,"delay":0.05},{"crate":14.16,"delay":0.3},{"crate":14.18,"delay":0.6},{"crate":14.2,"delay":0.15},{"crate":14.22,"delay":0.45},{"crate":14.24,"delay":0.35},{"crate":14.26,"delay":0.75},{"crate":14.28,"delay":0.0},
{"crate":14.31,"delay":-0.3},{"crate":14.33,"delay":-0.6},{"crate":14.35,"delay":-0.15},{"crate":14.37,"delay":-0.45},{"crate":14.39,"delay":-0.8},{"crate":14.41,"delay":-0.35},{"crate":14.43,"delay":-0.55},{"crate":14.45,"delay":-0.25},{"crate":14.47,"delay":-0.7},{"crate":14.49,"delay":-0.4},{"crate":14.51,"delay":-0.95},{"crate":14.53,"delay":-0.5},{"crate":14.55,"delay":-0.2},{"crate":14.57,"delay":-0.65},{"crate":14.59,"delay":-0.45},{"crate":14.61,"delay":-0.85},{"crate":14.63,"delay":-0.3},{"crate":14.65,"delay":-0.55},{"crate":14.38,"delay":0.1},{"crate":14.5,"delay":-1.15},{"crate":14.69,"delay":1.62},
{"crate":14.66,"delay":-0.1},{"crate":14.68,"delay":0.2},{"crate":14.7,"delay":-0.3},{"crate":14.72,"delay":0.05},{"crate":14.74,"delay":0.35},{"crate":14.76,"delay":-0.2},{"crate":14.78,"delay":0.1},{"crate":14.8,"delay":-0.45},{"crate":14.81,"delay":-1.0},{"crate":14.82,"delay":-1.25},{"crate":14.83,"delay":0.25},{"crate":14.85,"delay":-0.05},{"crate":14.87,"delay":0.4},{"crate":14.89,"delay":-0.25},{"crate":14.91,"delay":0.15},{"crate":14.93,"delay":1.35},{"crate":14.93,"delay":1.1},{"crate":14.94,"delay":0.9},{"crate":14.95,"delay":-0.1},{"crate":14.97,"delay":0.3},{"crate":14.85,"delay":-3.78},
{"crate":14.035,"delay":0.5},{"crate":14.075,"delay":0.45},{"crate":14.115,"delay":0.55},{"crate":14.155,"delay":0.45},{"crate":14.32,"delay":-0.5},{"crate":14.36,"delay":-0.55},{"crate":14.4,"delay":-0.45},{"crate":14.44,"delay":-0.6},{"crate":14.48,"delay":-0.5},{"crate":14.52,"delay":-0.55},{"crate":14.56,"delay":-0.45},{"crate":14.6,"delay":-0.5},{"crate":14.71,"delay":0.0},{"crate":14.77,"delay":0.05},{"crate":14.84,"delay":-0.05},
{"crate":15.02,"delay":0.3},{"crate":15.03,"delay":0.05},{"crate":15.04,"delay":0.5},{"crate":15.05,"delay":1.48},{"crate":15.06,"delay":0.2},{"crate":15.07,"delay":0.65},{"crate":15.08,"delay":-0.1},{"crate":15.09,"delay":0.4},{"crate":15.1,"delay":0.15},{"crate":15.11,"delay":0.55},{"crate":15.12,"delay":-0.2},{"crate":15.13,"delay":0.3},{"crate":15.14,"delay":0.1},{"crate":15.16,"delay":0.45},{"crate":15.18,"delay":-0.05},{"crate":15.2,"delay":0.25},{"crate":15.22,"delay":0.0},{"crate":15.24,"delay":0.35},{"crate":15.26,"delay":-0.3},
{"crate":15.28,"delay":-0.35},{"crate":15.3,"delay":-0.6},{"crate":15.31,"delay":-0.9},{"crate":15.32,"delay":-1.2},{"crate":15.33,"delay":-1.45},{"crate":15.34,"delay":-0.5},{"crate":15.36,"delay":-0.8},{"crate":15.38,"delay":-0.3},{"crate":15.4,"delay":-0.65},{"crate":15.42,"delay":-0.95},{"crate":15.44,"delay":-0.45},{"crate":15.46,"delay":-0.7},{"crate":15.48,"delay":-1.05},{"crate":15.5,"delay":-0.55},{"crate":15.52,"delay":-0.25},{"crate":15.54,"delay":-0.75},{"crate":15.56,"delay":-0.5},{"crate":15.58,"delay":1.0},{"crate":15.58,"delay":-0.9},{"crate":15.6,"delay":-0.4},{"crate":15.62,"delay":-0.65},{"crate":15.63,"delay":-3.05},{"crate":15.64,"delay":-1.7},{"crate":15.64,"delay":-2.15},{"crate":15.66,"delay":-0.6},{"crate":15.68,"delay":-0.35},{"crate":15.69,"delay":1.99},{"crate":15.7,"delay":-0.8},{"crate":15.72,"delay":-0.45},{"crate":15.74,"delay":-0.2},{"crate":15.76,"delay":-0.7},{"crate":15.78,"delay":-0.55},{"crate":15.8,"delay":-1.0},{"crate":15.82,"delay":-0.3},{"crate":15.84,"delay":-0.6},{"crate":15.86,"delay":-0.15},{"crate":15.88,"delay":-0.5},{"crate":15.9,"delay":-0.8},{"crate":15.92,"delay":-0.35},{"crate":15.94,"delay":0.0},{"crate":15.95,"delay":-1.3},{"crate":15.96,"delay":-1.6},{"crate":15.97,"delay":-0.45},{"crate":15.7,"delay":-2.2},{"crate":15.76,"delay":-1.4},
{"crate":15.035,"delay":0.25},{"crate":15.075,"delay":0.2},{"crate":15.115,"delay":0.3},{"crate":15.155,"delay":0.2},{"crate":15.35,"delay":-0.55},{"crate":15.39,"delay":-0.6},{"crate":15.43,"delay":-0.5},{"crate":15.47,"delay":-0.65},{"crate":15.51,"delay":-0.55},{"crate":15.55,"delay":-0.6},{"crate":15.59,"delay":-0.55},{"crate":15.67,"delay":-0.5},{"crate":15.73,"delay":-0.6},{"crate":15.79,"delay":-0.5},{"crate":15.85,"delay":-0.55},{"crate":15.91,"delay":-0.5},
{"crate":16.01,"delay":0.3},{"crate":16.02,"delay":0.75},{"crate":16.03,"delay":-0.1},{"crate":16.04,"delay":0.5},{"crate":16.05,"delay":0.2},{"crate":16.06,"delay":0.9},{"crate":16.07,"delay":0.4},{"crate":16.08,"delay":0.65},{"crate":16.09,"delay":0.1},{"crate":16.1,"delay":0.55},{"crate":16.11,"delay":0.8},{"crate":16.12,"delay":0.35},{"crate":16.13,"delay":1.05},{"crate":16.14,"delay":0.45},{"crate":16.15,"delay":0.6},{"crate":16.16,"delay":0.25},{"crate":16.17,"delay":0.7},{"crate":16.18,"delay":0.5},{"crate":16.19,"delay":1.1},{"crate":16.2,"delay":0.35},{"crate":16.21,"delay":0.85},{"crate":16.22,"delay":2.87},{"crate":16.23,"delay":0.45},{"crate":16.25,"delay":0.6},{"crate":16.27,"delay":0.15},{"crate":16.29,"delay":1.25},{"crate":16.31,"delay":0.75},{"crate":16.33,"delay":0.4},{"crate":16.35,"delay":0.95},{"crate":16.37,"delay":0.55},{"crate":16.39,"delay":1.5},{"crate":16.4,"delay":1.7},{"crate":16.41,"delay":1.92},{"crate":16.41,"delay":2.15},{"crate":16.42,"delay":2.22},{"crate":16.43,"delay":0.3},{"crate":16.45,"delay":0.65},{"crate":16.07,"delay":-3.7},{"crate":16.26,"delay":-3.2},{"crate":16.41,"delay":-2.13},
{"crate":16.52,"delay":-0.1},{"crate":16.54,"delay":-0.4},{"crate":16.56,"delay":0.15},{"crate":16.58,"delay":-0.25},{"crate":16.6,"delay":-0.55},{"crate":16.62,"delay":-0.05},{"crate":16.64,"delay":-0.35},{"crate":16.66,"delay":-0.8},{"crate":16.67,"delay":-1.05},{"crate":16.68,"delay":-1.3},{"crate":16.68,"delay":-1.5},{"crate":16.69,"delay":-1.72},{"crate":16.7,"delay":-0.2},{"crate":16.72,"delay":-0.6},{"crate":16.74,"delay":0.05},{"crate":16.76,"delay":-0.3},{"crate":16.78,"delay":-0.5},{"crate":16.8,"delay":-0.15},{"crate":16.82,"delay":0.25},{"crate":16.84,"delay":-0.4},{"crate":16.86,"delay":-0.1},{"crate":16.88,"delay":-0.65},{"crate":16.9,"delay":-0.25},{"crate":16.92,"delay":0.1},{"crate":16.94,"delay":-0.45},{"crate":16.96,"delay":-0.2},{"crate":16.98,"delay":0.0},
{"crate":16.035,"delay":0.45},{"crate":16.075,"delay":0.55},{"crate":16.115,"delay":0.5},{"crate":16.155,"delay":0.45},{"crate":16.195,"delay":0.6},{"crate":16.24,"delay":0.5},{"crate":16.3,"delay":0.55},{"crate":16.36,"delay":0.45},{"crate":16.55,"delay":-0.2},{"crate":16.61,"delay":-0.25},{"crate":16.65,"delay":-0.15},{"crate":16.73,"delay":-0.2},{"crate":16.79,"delay":-0.25},{"crate":16.85,"delay":-0.2},{"crate":16.91,"delay":-0.15},
{"crate":17.01,"delay":0.5},{"crate":17.02,"delay":3.84},{"crate":17.02,"delay":3.75},{"crate":17.03,"delay":0.2},{"crate":17.04,"delay":0.8},{"crate":17.05,"delay":1.45},{"crate":17.06,"delay":0.35},{"crate":17.07,"delay":0.6},{"crate":17.08,"delay":1.0},{"crate":17.09,"delay":0.25},{"crate":17.1,"delay":0.7},{"crate":17.11,"delay":0.45},{"crate":17.12,"delay":1.3},{"crate":17.13,"delay":0.1},{"crate":17.14,"delay":0.55},{"crate":17.15,"delay":0.85},{"crate":17.16,"delay":0.3},{"crate":17.17,"delay":0.65},{"crate":17.18,"delay":0.4},{"crate":17.2,"delay":0.95},{"crate":17.22,"delay":0.2},{"crate":17.24,"delay":0.5},{"crate":17.26,"delay":1.4},{"crate":17.28,"delay":0.35},{"crate":17.3,"delay":0.0},
{"crate":17.32,"delay":-0.2},{"crate":17.34,"delay":-0.5},{"crate":17.36,"delay":-0.1},{"crate":17.38,"delay":-0.4},{"crate":17.4,"delay":-0.7},{"crate":17.42,"delay":-0.25},{"crate":17.44,"delay":-0.55},{"crate":17.46,"delay":0.05},{"crate":17.48,"delay":-0.35},{"crate":17.5,"delay":-0.8},{"crate":17.52,"delay":-0.15},{"crate":17.54,"delay":-0.45},{"crate":17.42,"delay":-1.2},{"crate":17.48,"delay":1.35},{"crate":17.5,"delay":1.05},
{"crate":17.57,"delay":0.1},{"crate":17.59,"delay":-0.2},{"crate":17.61,"delay":0.3},{"crate":17.63,"delay":-0.05},{"crate":17.65,"delay":-0.4},{"crate":17.67,"delay":0.2},{"crate":17.69,"delay":-0.15},{"crate":17.71,"delay":-0.55},{"crate":17.73,"delay":0.05},{"crate":17.75,"delay":-0.3},{"crate":17.77,"delay":0.35},{"crate":17.79,"delay":-0.1},{"crate":17.81,"delay":-0.45},{"crate":17.83,"delay":0.15},{"crate":17.85,"delay":-0.25},{"crate":17.87,"delay":-0.6},{"crate":17.89,"delay":0.0},{"crate":17.91,"delay":-0.35},{"crate":17.93,"delay":0.25},{"crate":17.95,"delay":-0.15},{"crate":17.97,"delay":-0.45},{"crate":17.8,"delay":-0.95},{"crate":17.9,"delay":-1.1},{"crate":17.7,"delay":0.85},
{"crate":17.035,"delay":0.45},{"crate":17.075,"delay":0.4},{"crate":17.115,"delay":0.5},{"crate":17.155,"delay":0.35},{"crate":17.195,"delay":0.45},{"crate":17.35,"delay":-0.3},{"crate":17.39,"delay":-0.25},{"crate":17.43,"delay":-0.35},{"crate":17.47,"delay":-0.3},{"crate":17.6,"delay":-0.1},{"crate":17.66,"delay":-0.15},{"crate":17.72,"delay":-0.1},{"crate":17.78,"delay":-0.2},{"crate":17.84,"delay":-0.1},{"crate":17.9,"delay":-0.15},
{"crate":18.02,"delay":1.16},{"crate":18.03,"delay":0.2},{"crate":18.04,"delay":-0.1},{"crate":18.05,"delay":0.35},{"crate":18.06,"delay":0.05},{"crate":18.07,"delay":0.5},{"crate":18.08,"delay":-0.2},{"crate":18.09,"delay":0.25},{"crate":18.1,"delay":0.1},{"crate":18.11,"delay":0.4},{"crate":18.12,"delay":-0.05},{"crate":18.13,"delay":0.3},{"crate":18.14,"delay":0.15},{"crate":18.15,"delay":0.55},{"crate":18.16,"delay":-0.15},{"crate":18.17,"delay":0.2},{"crate":18.18,"delay":0.0},{"crate":18.19,"delay":0.35},{"crate":18.2,"delay":0.1},{"crate":18.21,"delay":0.45},{"crate":18.22,"delay":-0.25},{"crate":18.24,"delay":0.25},{"crate":18.26,"delay":0.05},{"crate":18.28,"delay":0.4},{"crate":18.3,"delay":0.15},{"crate":18.32,"delay":-0.1},{"crate":18.34,"delay":0.3},{"crate":18.36,"delay":0.0},{"crate":18.38,"delay":0.2},{"crate":18.4,"delay":0.5},{"crate":18.42,"delay":-0.2},{"crate":18.44,"delay":0.1},{"crate":18.46,"delay":0.35},{"crate":18.48,"delay":-0.05},{"crate":18.5,"delay":0.2},{"crate":18.52,"delay":0.0},{"crate":18.54,"delay":0.3},{"crate":18.56,"delay":-0.3},{"crate":18.58,"delay":0.1},{"crate":18.6,"delay":-0.15},{"crate":18.62,"delay":0.25},{"crate":18.64,"delay":-0.05},{"crate":18.66,"delay":0.15},{"crate":18.68,"delay":-0.35},{"crate":18.7,"delay":0.05},{"crate":18.72,"delay":-0.2},{"crate":18.74,"delay":0.2},{"crate":18.76,"delay":-0.1},{"crate":18.78,"delay":0.0},{"crate":18.8,"delay":-0.4},{"crate":18.82,"delay":0.1},{"crate":18.84,"delay":-0.25},{"crate":18.86,"delay":0.05},{"crate":18.88,"delay":-0.15},{"crate":18.9,"delay":-0.45},{"crate":18.92,"delay":0.0},{"crate":18.94,"delay":-0.3},{"crate":18.96,"delay":-0.1},{"crate":18.98,"delay":-0.2},{"crate":18.6,"delay":-0.85},{"crate":18.7,"delay":-1.05},{"crate":18.45,"delay":0.75},{"crate":18.92,"delay":0.6},{"crate":18.15,"delay":-0.6},
{"crate":18.035,"delay":0.1},{"crate":18.075,"delay":0.15},{"crate":18.115,"delay":0.05},{"crate":18.155,"delay":0.1},{"crate":18.195,"delay":0.15},{"crate":18.25,"delay":0.1},{"crate":18.31,"delay":0.05},{"crate":18.37,"delay":0.1},{"crate":18.43,"delay":0.0},{"crate":18.49,"delay":0.05},{"crate":18.55,"delay":0.0},{"crate":18.61,"delay":0.05},{"crate":18.67,"delay":-0.05},{"crate":18.73,"delay":0.0},{"crate":18.79,"delay":-0.1},{"crate":18.85,"delay":-0.05},{"crate":18.91,"delay":-0.1},{"crate":18.97,"delay":-0.15}
  ]},
  "layer": [
    {
      "mark": {"type": "circle", "size": 13, "color": "#1f77b4", "opacity": 1},
      "encoding": {
        "x": {"field": "crate", "type": "quantitative",
          "scale": {"domain": [0, 19], "nice": false, "zero": false},
          "axis": {"orient": "bottom", "values": [0,1,2,3,4,5,6,7,8,9,10,11,12,13,14,15,16,17,18],
            "grid": true, "gridColor": "#b3b3b3", "gridWidth": 1.5,
            "tickSize": -8, "tickWidth": 2, "labelFontSize": 27, "labelPadding": 18,
            "labelFlush": false, "labelOverlap": false,
            "title": "Crate", "titleFontSize": 28, "titleAnchor": "end", "titleAlign": "right",
            "titleX": 904, "titleY": 69, "titleBaseline": "alphabetic"}},
        "y": {"field": "delay", "type": "quantitative",
          "scale": {"domain": [-5, 5], "nice": false, "zero": false},
          "axis": {"orient": "left", "values": [-4, -2, 0, 2, 4],
            "grid": false, "tickSize": -9, "tickWidth": 2,
            "labelExpr": "datum.value === 4 ? '4' : datum.value === 2 ? '2' : datum.value === 0 ? '0' : datum.value === -2 ? '\u22122' : '\u22124'",
            "labelFontSize": 27, "labelPadding": 20, "labelOverlap": false, "labelFlush": false,
            "title": "Our - Standard Delay [ns]", "titleFontSize": 28, "titleAngle": -90,
            "titleAnchor": "end", "titleAlign": "right", "titleBaseline": "alphabetic",
            "titleX": -67, "titleY": 3}}
      }
    },
    {
      "mark": {"type": "circle", "size": 0, "opacity": 0},
      "encoding": {
        "x": {"field": "crate", "type": "quantitative",
          "scale": {"domain": [0, 19], "nice": false, "zero": false},
          "axis": {"orient": "top", "values": [0,1,2,3,4,5,6,7,8,9,10,11,12,13,14,15,16,17,18],
            "grid": false, "labels": false, "tickSize": -8, "tickWidth": 2, "title": null}},
        "y": {"field": "delay", "type": "quantitative",
          "scale": {"domain": [-5, 5], "nice": false, "zero": false},
          "axis": {"orient": "right", "values": [-4, -2, 0, 2, 4],
            "grid": false, "labels": false, "tickSize": -9, "tickWidth": 2, "title": null}}
      }
    },
    {
      "mark": {"type": "circle", "size": 0, "opacity": 0},
      "encoding": {
        "x": {"field": "crate", "type": "quantitative",
          "scale": {"domain": [0, 19], "nice": false, "zero": false}, "axis": null},
        "y": {"field": "delay", "type": "quantitative",
          "scale": {"domain": [-5, 5], "nice": false, "zero": false},
          "axis": {"orient": "left", "values": [-4.5,-3.5,-3,-2.5,-1.5,-1,-0.5,0.5,1,1.5,2.5,3,3.5,4.5],
            "grid": false, "labels": false, "tickSize": -5, "tickWidth": 1.5, "title": null}}
      }
    },
    {
      "mark": {"type": "circle", "size": 0, "opacity": 0},
      "encoding": {
        "x": {"field": "crate", "type": "quantitative",
          "scale": {"domain": [0, 19], "nice": false, "zero": false}, "axis": null},
        "y": {"field": "delay", "type": "quantitative",
          "scale": {"domain": [-5, 5], "nice": false, "zero": false},
          "axis": {"orient": "right", "values": [-4.5,-3.5,-3,-2.5,-1.5,-1,-0.5,0.5,1,1.5,2.5,3,3.5,4.5],
            "grid": false, "labels": false, "tickSize": -5, "tickWidth": 1.5, "title": null}}
      }
    }
  ]
}
